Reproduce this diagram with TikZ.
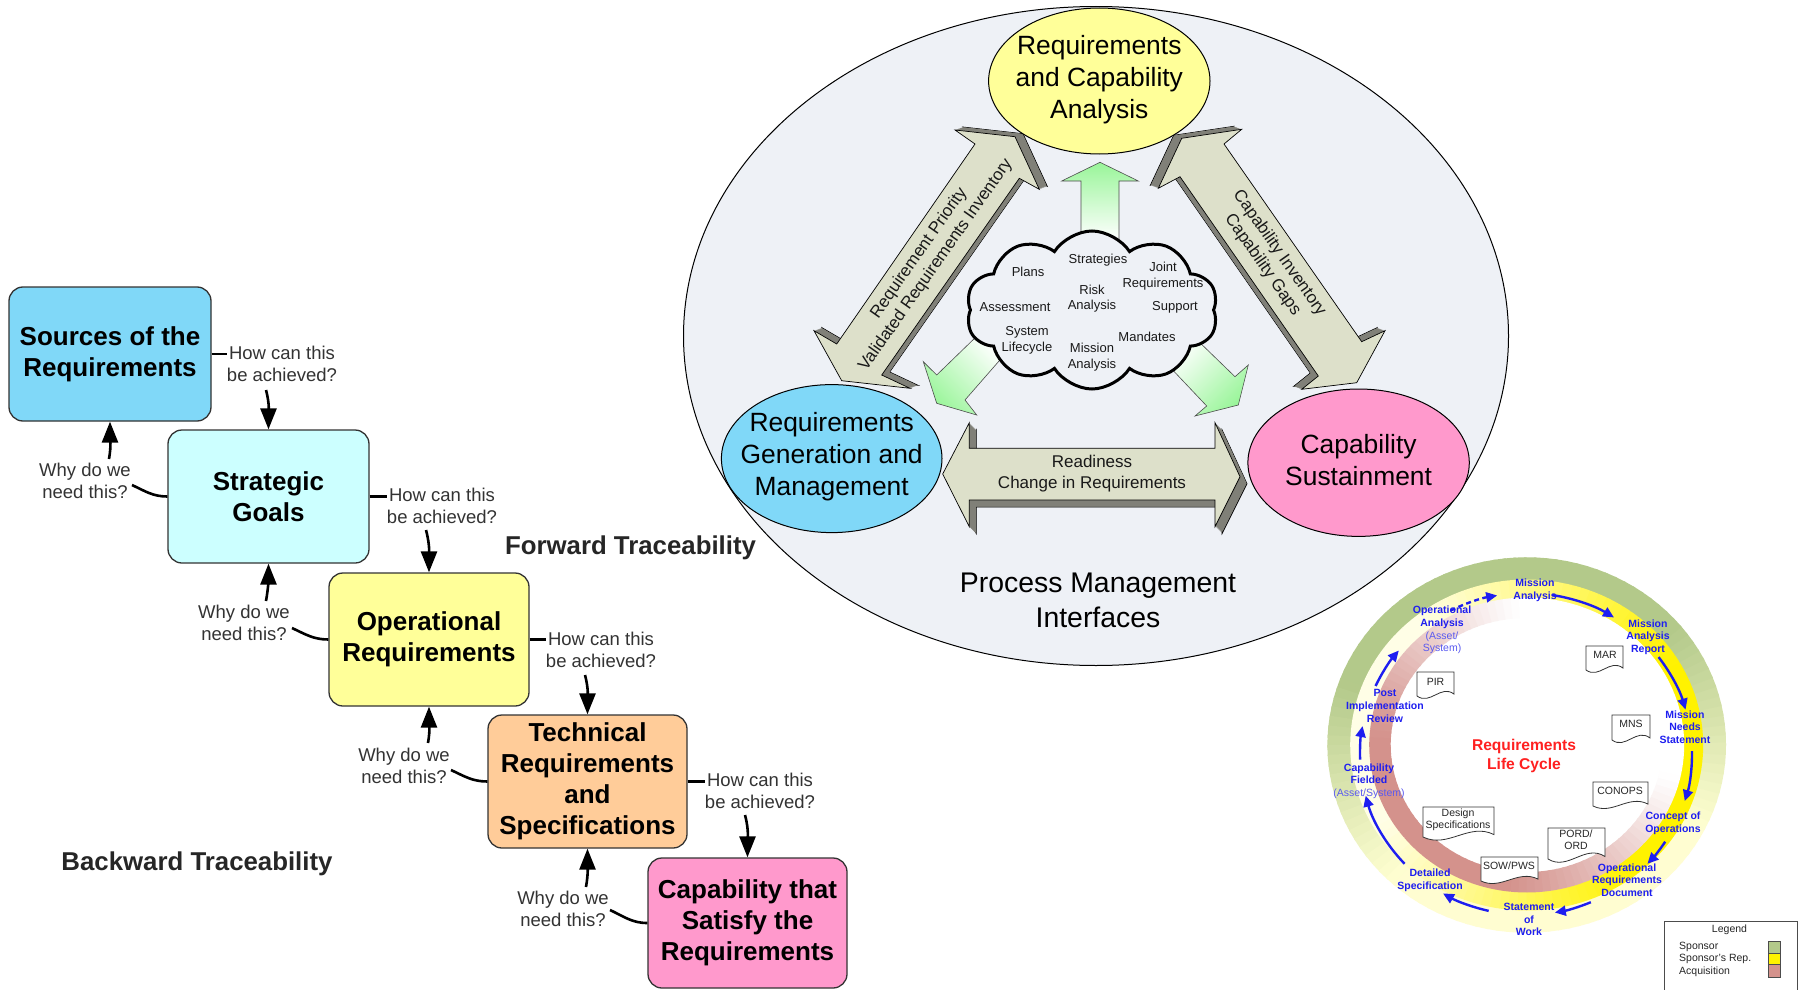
\documentclass[tikz,border=0pt]{standalone}
\usepackage{fontspec}
\setmainfont{Liberation Sans}
\usetikzlibrary{shapes.symbols,shapes.geometric,arrows.meta}
\definecolor{srcblue}{HTML}{80D8F8}
\definecolor{sgcyan}{HTML}{CCFFFF}
\definecolor{opyellow}{HTML}{FFFF99}
\definecolor{trorange}{HTML}{FFCC99}
\definecolor{cappink}{HTML}{FF99CC}
\definecolor{bgell}{HTML}{EEF1F6}
\definecolor{ellyellow}{HTML}{FFFF99}
\definecolor{ellblue}{HTML}{80D8F8}
\definecolor{ellpink}{HTML}{FF99CC}
\definecolor{khaki}{HTML}{DDE0CA}
\definecolor{khakidark}{HTML}{808078}
\definecolor{lgreen}{HTML}{99F599}
\definecolor{sponsorgreen}{HTML}{B3C98A}
\definecolor{acqred}{HTML}{D4928C}
\definecolor{lcblue}{HTML}{1E1EF0}
\definecolor{lcblue2}{HTML}{5A5AF0}
\definecolor{lcred}{HTML}{FF2020}
\definecolor{labelgray}{HTML}{333333}
\colorlet{ringbaseA}{yellow!18!white}
\colorlet{ringbaseB}{yellow!10!white}

\newcommand\lcdoc[8]{%
  \pgfmathsetmacro\lcxa{#2+#4}%
  \pgfmathsetmacro\lcya{-#3}%
  \pgfmathsetmacro\lcyb{-#3-0.92*#5}%
  \pgfmathsetmacro\lcyc{-#3-1.0*#5}%
  \pgfmathsetmacro\lccxa{#2+0.65*#4}%
  \pgfmathsetmacro\lccya{-#3-0.5*#5}%
  \pgfmathsetmacro\lccxb{#2+0.35*#4}%
  \pgfmathsetmacro\lccyb{-#3-1.4*#5}%
  \draw[docst] (#2,\lcya) -- (\lcxa,\lcya) -- (\lcxa,\lcyb) .. controls (\lccxa,\lccya) and (\lccxb,\lccyb) .. (#2,\lcyc) -- cycle;
  \node[doctx] (#1) at (#6,-#7) {#8};
}

\def\larrowpath{(955,-130) -- (1015,-136.7) -- (1039.3,-189.3) -- (1019.3,-178.3) -- (881.7,-375) -- (910,-388.3) -- (841.7,-380.7) -- (814,-330.7) -- (836.7,-344) -- (975,-144) -- cycle}
\def\rarrowpath{(1241.7,-129.3) -- (1181.7,-138.3) -- (1158.3,-188.3) -- (1180,-176.7) -- (1318.3,-376) -- (1301.7,-389.3) -- (1356.7,-382.7) -- (1385,-330.7) -- (1361.7,-341.7) -- (1224,-144) -- cycle}
\def\barrowpath{(942.7,-474) -- (969.3,-422.7) -- (969.3,-448.3) -- (1215,-448.3) -- (1215,-422.7) -- (1240,-476.7) -- (1215,-526.7) -- (1215,-500) -- (969.3,-500) -- (969.3,-526.7) -- cycle}

\begin{document}
\begin{tikzpicture}[x=1pt,y=1pt,
 rbox/.style={draw=black!80, line width=1.3pt, rounded corners=14pt, inner sep=0pt, align=center, font=\fontsize{26}{31}\selectfont\bfseries},
 qlabel/.style={align=center, inner sep=0pt, text=labelgray, font=\fontsize{18.5}{22}\selectfont},
 qline/.style={line width=2.6pt, black},
 qarrow/.style={line width=2.6pt, black, -{Triangle[length=21pt,width=16pt]}},
 trace/.style={font=\fontsize{25.8}{30}\selectfont\bfseries, text=black!85, inner sep=0pt},
 bigell/.style={ellipse, draw=black, line width=1pt, inner sep=0pt},
 elltext/.style={align=center, inner sep=0pt, font=\fontsize{26.4}{32}\selectfont},
 cloudword/.style={align=center, inner sep=0pt, font=\fontsize{13}{15.7}\selectfont, text=black!90},
 arrowtext/.style={align=center, inner sep=0pt, font=\fontsize{17}{20.5}\selectfont, text=black!90},
 garrow/.style={draw=black!70, line width=0.6pt},
 lcl/.style={align=center, inner sep=0pt, text=lcblue, font=\fontsize{10.5}{12.7}\selectfont\bfseries},
 lcarr/.style={line width=2.4pt, lcblue, -{Triangle[length=11pt,width=10pt]}},
 docst/.style={draw=black!80, fill=white, line width=0.8pt},
 doctx/.style={align=center, inner sep=0pt, font=\fontsize{10.5}{12.7}\selectfont, text=black!85},
 legtx/.style={inner sep=0pt, font=\fontsize{10.5}{12.7}\selectfont, text=black!85},
]
\fill[white] (0,0) rectangle (1800,-990);
\useasboundingbox (0,0) rectangle (1800,-990);

% ---------------- left: traceability ----------------
\node[rbox, fill=srcblue, minimum width=202pt, minimum height=134pt] (src) at (110,-354) {Sources of the\\Requirements};
\node[rbox, fill=sgcyan, minimum width=201pt, minimum height=133pt] (sg) at (268.5,-496.5) {Strategic\\Goals};
\node[rbox, fill=opyellow, minimum width=200pt, minimum height=133pt] (op) at (429,-639.5) {Operational\\Requirements};
\node[rbox, fill=trorange, minimum width=199pt, minimum height=133pt] (tr) at (587.5,-781.5) {Technical\\Requirements\\and\\Specifications};
\node[rbox, fill=cappink, minimum width=199pt, minimum height=130pt] (cap) at (747.5,-923) {Capability that\\Satisfy the\\Requirements};

\node[qlabel] (how1) at (282,-364) {How can this\\be achieved?};
\node[qlabel] (why1) at (85,-481) {Why do we\\need this?};
\node[qlabel] (how2) at (442,-506) {How can this\\be achieved?};
\node[qlabel] (why2) at (244,-623) {Why do we\\need this?};
\node[qlabel] (how3) at (601,-650) {How can this\\be achieved?};
\node[qlabel] (why3) at (404,-766) {Why do we\\need this?};
\node[qlabel] (how4) at (760,-791) {How can this\\be achieved?};
\node[qlabel] (why4) at (563,-909) {Why do we\\need this?};

\coordinate (h1a) at (266,-390);
\coordinate (h2a) at (426,-530);
\coordinate (h3a) at (585,-675);
\coordinate (h4a) at (745,-815);
\coordinate (w1a) at (109,-459);
\coordinate (w2a) at (266,-601);
\coordinate (w3a) at (428,-743);
\coordinate (w4a) at (586,-887);
\coordinate (w1e) at (132,-485);
\coordinate (w2e) at (292,-628);
\coordinate (w3e) at (451,-770);
\coordinate (w4e) at (610,-910);

\draw[qline] (src.east) -- (src.east -| how1.west);
\draw[qline] (sg.east) -- (sg.east -| how2.west);
\draw[qline] (op.east) -- (op.east -| how3.west);
\draw[qline] (tr.east) -- (tr.east -| how4.west);
\draw[qarrow] (h1a) to[out=-75,in=90] (sg.north);
\draw[qarrow] (h2a) to[out=-75,in=90] (op.north);
\draw[qarrow] (h3a) to[out=-75,in=90] (tr.north);
\draw[qarrow] (h4a) to[out=-75,in=90] (cap.north);
\draw[qline] (sg.west) to[out=180,in=-25] (w1e);
\draw[qline] (op.west) to[out=180,in=-25] (w2e);
\draw[qline] (tr.west) to[out=180,in=-25] (w3e);
\draw[qline] (cap.west) to[out=180,in=-25] (w4e);
\draw[qarrow] (w1a) to[out=80,in=-90] (src.south);
\draw[qarrow] (w2a) to[out=80,in=-90] (sg.south);
\draw[qarrow] (w3a) to[out=80,in=-90] (op.south);
\draw[qarrow] (w4a) to[out=80,in=-90] (tr.south);

\node[trace] (fwd) at (630.5,-548) {Forward Traceability};
\node[trace] (bwd) at (197,-864) {Backward Traceability};

% ---------------- middle: process management ----------------
\node[bigell, fill=bgell, minimum width=825pt, minimum height=659pt] (pmi) at (1096,-336) {};

% left diagonal double arrow
\filldraw[fill=khakidark, draw=black, line width=0.7pt, shift={(8,3)}] \larrowpath;
\foreach \t in {7.5,7,...,0.5} {\fill[khakidark, shift={(\t,0.375*\t)}] \larrowpath;}
\filldraw[fill=khaki, draw=black, line width=0.7pt] \larrowpath;
% right diagonal double arrow
\filldraw[fill=khakidark, draw=black, line width=0.7pt, shift={(-8,3)}] \rarrowpath;
\foreach \t in {7.5,7,...,0.5} {\fill[khakidark, shift={(-\t,0.375*\t)}] \rarrowpath;}
\filldraw[fill=khaki, draw=black, line width=0.7pt] \rarrowpath;
% bottom double arrow
\filldraw[fill=khakidark, draw=black, line width=0.7pt, shift={(7,-7)}] \barrowpath;
\foreach \t in {6.5,6,...,0.5} {\fill[khakidark, shift={(\t,-\t)}] \barrowpath;}
\filldraw[fill=khaki, draw=black, line width=0.7pt] \barrowpath;

% green arrows
\shadedraw[garrow, top color=lgreen, bottom color=white] (1100,-162.3) -- (1138.3,-181) -- (1119,-181) -- (1119,-240) -- (1081,-240) -- (1081,-181) -- (1061.7,-181) -- cycle;
\shadedraw[garrow, top color=white, bottom color=lgreen, shading angle=-45] (936.7,-403.3) -- (923.3,-361.7) -- (936.7,-375) -- (978,-335) -- (1006,-353) -- (965,-400) -- (976.7,-415) -- cycle;
\shadedraw[garrow, top color=white, bottom color=lgreen, shading angle=45] (1238.3,-405) -- (1248.3,-365) -- (1235,-376.7) -- (1194,-337) -- (1167,-364) -- (1206.7,-406) -- (1195,-416) -- cycle;

% cloud
\node[cloud, cloud puffs=10, cloud puff arc=115, cloud ignores aspect, draw=black, line width=3pt, fill=bgell, minimum width=252pt, minimum height=158pt, inner sep=0pt] (cloud) at (1092,-310) {};
\node[cloudword] (cw1) at (1098,-260) {Strategies};
\node[cloudword] (cw2) at (1028,-272) {Plans};
\node[cloudword] (cw3) at (1163,-276) {Joint\\Requirements};
\node[cloudword] (cw4) at (1092,-298.5) {Risk\\Analysis};
\node[cloudword] (cw5) at (1015,-307) {Assessment};
\node[cloudword] (cw6) at (1175,-307) {Support};
\node[cloudword] (cw7) at (1027,-340.5) {System\\Lifecycle};
\node[cloudword] (cw8) at (1147,-337) {Mandates};
\node[cloudword] (cw9) at (1092,-357) {Mission\\Analysis};

% coloured ellipses
\node[bigell, fill=ellyellow, minimum width=221.4pt, minimum height=146pt] (rca) at (1099.3,-81) {};
\node[elltext] (rcat) at (1099.3,-80) {Requirements\\and Capability\\Analysis};
\node[bigell, fill=ellblue, minimum width=220.6pt, minimum height=148pt] (rgm) at (831.7,-458.6) {};
\node[elltext] (rgmt) at (831.7,-457) {Requirements\\Generation and\\Management};
\node[bigell, fill=ellpink, minimum width=221.4pt, minimum height=147.4pt] (cs) at (1358.6,-462.7) {};
\node[elltext] (cst) at (1358.6,-460) {Capability\\Sustainment};

\node[arrowtext] (bat) at (1092,-473.5) {Readiness\\Change in Requirements};
\node[arrowtext, rotate=55] (lat) at (927.5,-259) {Requirement Priority\\Validated Requirements Inventory};
\node[arrowtext, rotate=-55] (rat) at (1271,-259) {Capability Inventory\\Capability Gaps};
\node[align=center, inner sep=0pt, font=\fontsize{28.4}{34.7}\selectfont] (pmit) at (1098,-600.6) {Process Management\\Interfaces};

% ---------------- right: requirements life cycle ----------------
\coordinate (lc) at (1526.7,-745);
\foreach \a in {0,3,...,357} {
  \pgfmathsetmacro\b{\a+3.8}
  \pgfmathsetmacro\m{\a+1.5}
  \pgfmathsetmacro\gv{max(0,min(100,100*(0.55+0.9*cos(\m-100))))}
  \pgfmathsetmacro\yv{max(0,min(100,100*(0.5+0.65*cos(\m+10))))}
  \pgfmathsetmacro\rv{max(0,min(100,100*(0.45+0.75*cos(\m-220))))}
  \colorlet{ringA}{sponsorgreen!\gv!ringbaseA}
  \colorlet{ringB}{yellow!\yv!ringbaseB}
  \colorlet{ringC}{acqred!\rv!white}
  \fill[ringA] ([shift={(\a:199.3 and 187.7)}]lc) arc[start angle=\a, end angle=\b, x radius=199.3, y radius=187.7] -- ([shift={(\b:176 and 165)}]lc) arc[start angle=\b, end angle=\a, x radius=176, y radius=165] -- cycle;
  \fill[ringB] ([shift={(\a:176.5 and 165.5)}]lc) arc[start angle=\a, end angle=\b, x radius=176.5, y radius=165.5] -- ([shift={(\b:157 and 147)}]lc) arc[start angle=\b, end angle=\a, x radius=157, y radius=147] -- cycle;
  \fill[ringC] ([shift={(\a:157.5 and 147.5)}]lc) arc[start angle=\a, end angle=\b, x radius=157.5, y radius=147.5] -- ([shift={(\b:136 and 127)}]lc) arc[start angle=\b, end angle=\a, x radius=136, y radius=127] -- cycle;
}

\coordinate (la) at (1526,-754);
\draw[lcarr, dash pattern=on 5pt off 3.5pt] ([shift={(117:166 and 161)}]la) arc[start angle=117, end angle=100, x radius=166, y radius=161];
\foreach \a/\b in {81/58, 37/16, 1/-17, -33/-43, -67/-80, -103/-120, -137/-165, 182/170, 155/140}
  {\draw[lcarr] ([shift={(\a:166 and 161)}]la) arc[start angle=\a, end angle=\b, x radius=166, y radius=161];}

\lcdoc{dmar}{1586}{646}{37}{24}{1605}{655}{MAR}
\lcdoc{dmns}{1612}{715}{38}{25}{1631}{724.3}{MNS}
\lcdoc{dpir}{1417}{672}{37}{24}{1435.5}{682.3}{PIR}
\lcdoc{dcon}{1593}{782}{55}{24}{1620}{790.7}{CONOPS}
\lcdoc{dord}{1548}{828}{57}{31}{1576}{839.7}{PORD/\\ORD}
\lcdoc{ddes}{1423}{807}{71}{30}{1458}{819.7}{Design\\Specifications}
\lcdoc{dsow}{1481}{857}{57}{24}{1509}{866}{SOW/PWS}

\node[lcl] (lma) at (1535,-590.5) {Mission\\Analysis};
\node[lcl] (loa) at (1442,-630) {Operational\\Analysis\\{\mdseries\color{lcblue2}(Asset/}\\{\mdseries\color{lcblue2}System)}};
\node[lcl] (lmar) at (1648,-637) {Mission\\Analysis\\Report};
\node[lcl] (lmns) at (1685,-727) {Mission\\Needs\\Statement};
\node[lcl] (lcon) at (1673,-823) {Concept of\\Operations};
\node[lcl] (lord) at (1627,-880) {Operational\\Requirements\\Document};
\node[lcl] (lsow) at (1529,-919.5) {Statement\\of\\Work};
\node[lcl] (ldet) at (1430,-880.5) {Detailed\\Specification};
\node[lcl] (lcap) at (1369,-781) {Capability\\Fielded\\{\mdseries\color{lcblue2}(Asset/System)}};
\node[lcl] (lpir) at (1385,-706) {Post\\Implementation\\Review};
\node[align=center, inner sep=0pt, text=lcred, font=\fontsize{15.6}{19}\selectfont\bfseries] (lrlc) at (1524,-755.5) {Requirements\\Life Cycle};

% legend
\node[draw=black!70, line width=1pt, fill=white, minimum width=133pt, minimum height=80pt, anchor=north west, inner sep=0pt] (leg) at (1664,-921) {};
\node[legtx] (legt) at (1729.5,-930) {Legend};
\node[legtx, anchor=west] (leg1) at (1679,-947) {Sponsor};
\node[legtx, anchor=west] (leg2) at (1679,-959) {Sponsor's Rep.};
\node[legtx, anchor=west] (leg3) at (1679,-972) {Acquisition};
\filldraw[fill=sponsorgreen, draw=black!70, line width=0.8pt] (1768,-941) rectangle (1780,-953);
\filldraw[fill=yellow, draw=black!70, line width=0.8pt] (1768,-953) rectangle (1780,-964);
\filldraw[fill=acqred, draw=black!70, line width=0.8pt] (1768,-964) rectangle (1780,-977);
\end{tikzpicture}
\end{document}
